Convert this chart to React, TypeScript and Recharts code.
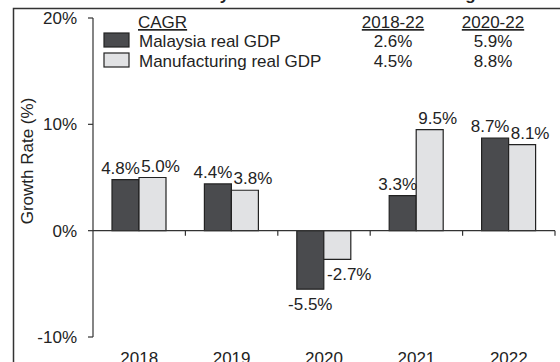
import React from 'react';
import { BarChart, Bar, XAxis, YAxis, ReferenceLine, LabelList } from 'recharts';

const years = ['2018', '2019', '2020', '2021', '2022'];
const malaysiaGdp = [4.8, 4.4, -5.5, 3.3, 8.7];
const manufacturingGdp = [5.0, 3.8, -2.7, 9.5, 8.1];
const yTicks = [-10, 0, 10, 20];

const cagrPeriods = ['2018-22', '2020-22'];
const cagrMalaysia = ['2.6%', '5.9%'];
const cagrManufacturing = ['4.5%', '8.8%'];

const data = years.map((year, i) => ({
  year,
  malaysia: malaysiaGdp[i],
  manufacturing: manufacturingGdp[i],
}));

const FONT = '"Liberation Sans", Arial, sans-serif';
const INK = '#232323';
const AXIS = '#333';
const DARK = '#4a4b4e';
const LIGHT = '#e1e2e4';

// value labels: above positive bars, below negative ones, nudged sideways
const makeLabel = (dx: number, negDx: number) => (props: any) => {
  const { x, y, width, height, value } = props;
  const top = Math.min(y, y + height);
  const bottom = Math.max(y, y + height);
  const cx = x + width / 2;
  const neg = value < 0;
  return (
    <text
      x={cx + (neg ? negDx : dx)}
      y={neg ? bottom + 21 : top - 6}
      textAnchor="middle"
      fontSize={17}
      fill={INK}
      fontFamily={FONT}
    >
      {`${value.toFixed(1)}%`}
    </text>
  );
};

// zero line with small ticks hanging down at the category boundaries
const ZeroLine = (props: any) => {
  const { x1, y1, x2 } = props;
  const step = (x2 - x1) / years.length;
  return (
    <g>
      <line x1={x1} y1={y1} x2={x2} y2={y1} stroke={AXIS} strokeWidth={1.2} />
      {years.map((_, i) => (
        <line
          key={i}
          x1={x1 + step * (i + 1)}
          x2={x1 + step * (i + 1)}
          y1={y1}
          y2={y1 + 5}
          stroke={AXIS}
          strokeWidth={1.2}
        />
      ))}
    </g>
  );
};

const App = () => {
  return (
    <div
      style={{
        position: 'absolute',
        left: 0,
        top: 0,
        width: 560,
        height: 362,
        overflow: 'hidden',
        background: '#fff',
        fontFamily: FONT,
      }}
    >
      <BarChart
        width={560}
        height={362}
        data={data}
        margin={{ top: 18, right: 5, bottom: 0, left: 0 }}
        barGap={0}
        barSize={27}
        style={{ fontFamily: FONT }}
      >
        <XAxis
          dataKey="year"
          axisLine={false}
          tickLine={false}
          tickSize={0}
          tickMargin={15}
          height={25}
          interval={0}
          tick={{ fill: INK, fontSize: 17 }}
        />
        <YAxis
          domain={[-10, 20]}
          ticks={yTicks}
          interval={0}
          width={93}
          tickSize={5}
          tickMargin={11}
          tickFormatter={(v: number) => `${v}%`}
          axisLine={{ stroke: AXIS, strokeWidth: 1.2 }}
          tickLine={{ stroke: AXIS, strokeWidth: 1.2 }}
          tick={{ fill: INK, fontSize: 17 }}
        />
        <Bar dataKey="malaysia" fill={DARK} stroke="#222" strokeWidth={1.2} isAnimationActive={false}>
          <LabelList dataKey="malaysia" content={makeLabel(-5, 0)} />
        </Bar>
        <Bar dataKey="manufacturing" fill={LIGHT} stroke="#222" strokeWidth={1.2} isAnimationActive={false}>
          <LabelList dataKey="manufacturing" content={makeLabel(8, 12)} />
        </Bar>
        <ReferenceLine y={0} shape={ZeroLine} />
      </BarChart>

      <svg
        width={560}
        height={362}
        style={{ position: 'absolute', left: 0, top: 0, pointerEvents: 'none' }}
        fontFamily={FONT}
      >
        {/* title, mostly cropped off the top */}
        <text x={182} y={-0.5} fontSize={17} fontWeight="bold" fill={INK}>
          Malaysia real GDP vs manufacturing
        </text>
        <path d="M13.5 362 V8.5 H560" fill="none" stroke={AXIS} strokeWidth={1.5} />

        <text
          x={27}
          y={161}
          transform="rotate(-90 27 161)"
          textAnchor="middle"
          dominantBaseline="central"
          fontSize={17}
          fill={INK}
        >
          Growth Rate (%)
        </text>

        <text x={138} y={28} fontSize={17} fill={INK} textDecoration="underline">
          CAGR
        </text>
        <rect x={104} y={33} width={25} height={14} fill={DARK} stroke="#222" strokeWidth={1.2} />
        <text x={139} y={47} fontSize={17} fill={INK}>
          Malaysia real GDP
        </text>
        <rect x={104} y={53} width={25} height={14} fill={LIGHT} stroke="#222" strokeWidth={1.2} />
        <text x={139} y={67} fontSize={17} fill={INK}>
          Manufacturing real GDP
        </text>

        {cagrPeriods.map((p, i) => (
          <g key={p}>
            <text x={393 + i * 100} y={28} fontSize={17} fill={INK} textAnchor="middle" textDecoration="underline">
              {p}
            </text>
            <text x={393 + i * 100} y={47} fontSize={17} fill={INK} textAnchor="middle">
              {cagrMalaysia[i]}
            </text>
            <text x={393 + i * 100} y={67} fontSize={17} fill={INK} textAnchor="middle">
              {cagrManufacturing[i]}
            </text>
          </g>
        ))}
      </svg>
    </div>
  );
};

export default App;
